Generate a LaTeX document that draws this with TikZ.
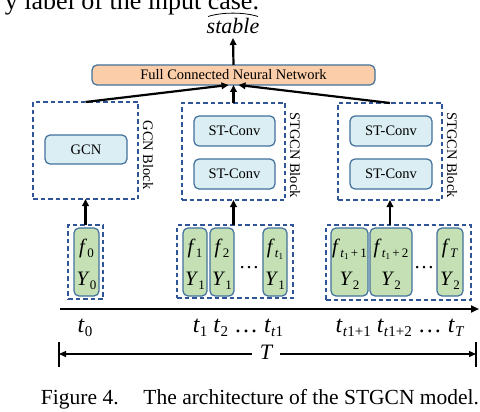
\documentclass[tikz,border=0pt]{standalone}
\usepackage{fontspec}
\setmainfont{Liberation Serif}
\usetikzlibrary{arrows.meta,calc}
\definecolor{bordc}{HTML}{41719C}
\definecolor{dashc}{HTML}{2F5597}
\definecolor{bluef}{HTML}{DAEEF3}
\definecolor{greenf}{HTML}{C5E0B4}
\definecolor{peach}{HTML}{FBCDA8}
\newcommand{\sbx}[2][13]{\raisebox{-0.45ex}{\fontsize{#1}{#1}\selectfont #2}}
\newcommand{\fs}[1]{\fontsize{#1}{#1}\selectfont}
% box by corners: style, name, x1, y1, x2, y2, text
\newcommand{\cbox}[7]{%
  \node[#1, minimum width={#5-#3}, minimum height={#6-#4}] (#2) at ({(#3+#5)/2},{(#4+#6)/2}) {#7};}
\tikzset{
  every node/.style={inner sep=0pt, outer sep=0pt},
  dashbox/.style={draw=dashc, line width=1.2pt, dash pattern=on 4.5pt off 3pt},
  convbox/.style={draw=bordc, fill=bluef, line width=1.2pt, rounded corners=5pt, font=\fs{14.5}},
  cellbox/.style={draw=bordc, fill=greenf, line width=1.2pt, rounded corners=5pt},
  fcbox/.style={draw=bordc, fill=peach, line width=1.2pt, rounded corners=5pt, font=\fs{14.5}},
  blocklabel/.style={rotate=-90, font=\fs{14.5}},
  arr/.style={line width=2.2pt, -{Triangle[length=7pt,width=6.5pt]}},
  celltxt/.style={anchor=base, font=\fs{20.5}},
  tlab/.style={anchor=base, font=\fs{24}},
}
\begin{document}
\begin{tikzpicture}[x=1pt,y=-1pt]
\useasboundingbox (0,0) rectangle (480,412);
\fill[white] (0,0) rectangle (480,412);

% cut-off text line at the top
\node[anchor=base east, font=\fs{26}] (topline) at (259,9.5) {y label of the input case.};

% output label with a wide hat
\node[anchor=base, font=\fs{22}\itshape] (stable) at (233,34) {stable};
\coordinate (hatL) at (208,16.5);
\coordinate (hatR) at (258,16.5);
\draw[line width=0.8pt] (hatL) .. controls (222,12) and (244,12) .. (hatR);

% fully connected network
\cbox{fcbox}{fc}{92}{65}{375}{85}{Full Connected Neural Network}

% blocks
\cbox{dashbox}{blk1}{33}{102}{138}{199}{}
\cbox{dashbox}{blk2}{182}{103}{285}{200}{}
\cbox{dashbox}{blk3}{338}{103}{442}{200}{}
\cbox{convbox}{gcn}{45}{135}{127}{164}{GCN}
\cbox{convbox}{st1a}{194}{116}{275}{146}{ST-Conv}
\cbox{convbox}{st1b}{194}{159}{275}{189}{ST-Conv}
\cbox{convbox}{st2a}{350}{116}{432}{146}{ST-Conv}
\cbox{convbox}{st2b}{350}{159}{432}{189}{ST-Conv}
\node[blocklabel] (lb1) at (148,155) {GCN Block};
\node[blocklabel] (lb2) at (295,155) {STGCN Block};
\node[blocklabel] (lb3) at (452,155) {STGCN Block};

% input groups
\cbox{dashbox}{grp1}{68}{225}{103}{299}{}
\cbox{dashbox}{grp2}{177}{225}{293}{298}{}
\cbox{dashbox}{grp3}{326}{225}{471}{300}{}

\cbox{cellbox}{c0}{74}{228}{99}{296}{}
\cbox{cellbox}{c1}{183}{228}{207}{296}{}
\cbox{cellbox}{c2}{210}{228}{234}{296}{}
\cbox{cellbox}{c3}{263}{228}{287}{296}{}
\cbox{cellbox}{c4}{331}{228}{368}{296}{}
\cbox{cellbox}{c5}{370}{228}{412}{296}{}
\cbox{cellbox}{c6}{437}{228}{463}{296}{}

\node[celltxt] (f0) at (c0 |- 0,253) {\textit{f}\sbx{0}};
\node[celltxt] (y0) at (c0 |- 0,285) {\textit{Y}\sbx{0}};
\node[celltxt] (f1) at (c1 |- 0,253) {\textit{f}\sbx{1}};
\node[celltxt] (y1) at (c1 |- 0,285) {\textit{Y}\sbx{1}};
\node[celltxt] (f2) at (c2 |- 0,253) {\textit{f}\sbx{2}};
\node[celltxt] (y2) at (c2 |- 0,285) {\textit{Y}\sbx{1}};
\node[celltxt] (f3) at (c3 |- 0,253) {\textit{f}\sbx{\textit{t}\sbx[9]{1}}};
\node[celltxt] (y3) at (c3 |- 0,285) {\textit{Y}\sbx{1}};
\node[celltxt] (f4) at (c4 |- 0,253) {\textit{f}\sbx{\textit{t}\sbx[9]{1}\,+\,1}};
\node[celltxt] (y4) at (c4 |- 0,285) {\textit{Y}\sbx{2}};
\node[celltxt] (f5) at (c5 |- 0,253) {\textit{f}\sbx{\textit{t}\sbx[9]{1}\,+\,2}};
\node[celltxt] (y5) at (c5 |- 0,285) {\textit{Y}\sbx{2}};
\node[celltxt] (f6) at (c6 |- 0,253) {\textit{f}\sbx{\textit{T}}};
\node[celltxt] (y6) at (c6 |- 0,285) {\textit{Y}\sbx{2}};
\node[celltxt] (d1) at (249,268) {…};
\node[celltxt] (d2) at (424,268) {…};

% arrows
\draw[arr] (fc.north) -- (stable.north |- 0,38);
\draw[arr] (blk1.north) -- ([xshift=-5pt]fc.south);
\draw[arr] (blk2.north) -- (fc.south);
\draw[arr] (blk3.north) -- ([xshift=5pt]fc.south);
\draw[arr] (grp1.north) -- (grp1.north |- blk1.south);
\draw[arr] (blk2.south |- grp2.north) -- (blk2.south);
\draw[arr] (blk3.south |- grp3.north) -- (blk3.south);

% time axis
\coordinate (ax0) at (60,309);
\coordinate (ax1) at (479,309);
\draw[line width=2pt, -{Triangle[length=8pt,width=7pt]}] (ax0) -- (ax1);

\node[tlab] (tl0) at (85,332) {\textit{t}\sbx[15]{0}};
\node[tlab] (tl1) at (238,332) {\textit{t}\sbx[15]{1} \textit{t}\sbx[15]{2} … \textit{t}\sbx[15]{\textit{t}1}};
\node[tlab] (tl2) at (400,332) {\textit{t}\sbx[15]{\textit{t}1+1} \textit{t}\sbx[15]{\textit{t}1+2} … \textit{t}\sbx[15]{\textit{T}}};

% span T
\node[font=\fs{22}\itshape] (Tl) at (266,352) {T};
\coordinate (bl) at (59,354);
\coordinate (br) at (476,354);
\draw[line width=1.5pt] (59,342) -- (59,367) (476,342) -- (476,367);
\draw[line width=1.3pt, -{Triangle[length=7pt,width=6pt]}] ([xshift=-8pt]Tl.west |- bl) -- (bl);
\draw[line width=1.3pt, -{Triangle[length=7pt,width=6pt]}] ([xshift=8pt]Tl.east |- br) -- (br);

% caption
\node[anchor=base west, font=\fs{21.5}] (capA) at (41,404) {Figure 4.};
\node[anchor=base east, font=\fs{21.5}] (capB) at (479,404) {The architecture of the STGCN model.};
\end{tikzpicture}
\end{document}
